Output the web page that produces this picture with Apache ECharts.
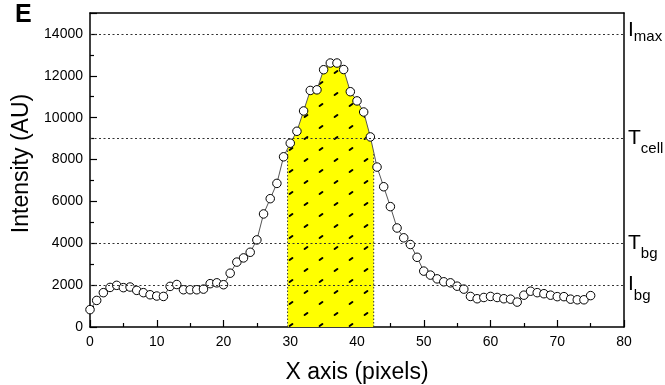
<!DOCTYPE html>
<html><head><meta charset="utf-8">
<script src="https://cdn.jsdelivr.net/npm/echarts@6/dist/echarts.min.js"></script>
<style>html,body{margin:0;padding:0;background:#fff}#c{width:665px;height:385px}</style>
</head><body><div id="c"></div>
<script>
const xPixels = [0,1,2,3,4,5,6,7,8,9,10,11,12,13,14,15,16,17,18,19,20,21,22,23,24,25,26,27,28,29,30,31,32,33,34,35,36,37,38,39,40,41,42,43,44,45,46,47,48,49,50,51,52,53,54,55,56,57,58,59,60,61,62,63,64,65,66,67,68,69,70,71,72,73,74,75];
const intensity = [830,1270,1640,1890,1990,1880,1910,1750,1640,1540,1480,1460,1940,2030,1780,1780,1780,1810,2070,2110,2020,2570,3100,3300,3570,4160,5400,6130,6860,8130,8780,9350,10320,11300,11330,12290,12610,12610,12300,11240,10800,10270,9080,7640,6700,5750,4730,4260,3940,3330,2670,2480,2300,2160,2110,1950,1810,1460,1350,1410,1460,1410,1350,1330,1190,1520,1710,1640,1590,1520,1450,1450,1330,1300,1300,1500];
const thresholdValues = [14000, 9000, 4000, 2000];
const thresholdMain = ['I', 'T', 'T', 'I'];
const thresholdSub = ['max', 'cell', 'bg', 'bg'];
const regionBounds = [29.6, 42.5];
const FONT = "'Liberation Sans', Arial, sans-serif";

function makePattern() {
  const c = document.createElement('canvas');
  c.width = 30; c.height = 22;
  const g = c.getContext('2d');
  g.fillStyle = '#ffff00'; g.fillRect(0, 0, 30, 22);
  g.strokeStyle = '#000'; g.lineWidth = 2; g.lineCap = 'round';
  [[6, 6], [21, 17]].forEach(function (p) {
    g.beginPath(); g.moveTo(p[0] - 1.4, p[1] + 1.0); g.lineTo(p[0] + 1.4, p[1] - 1.0); g.stroke();
  });
  return c;
}
const pattern = makePattern();

function renderRegion(params, api) {
  const pts = xPixels.map(function (x, i) { return api.coord([x, intensity[i]]); });
  const b0 = api.coord([regionBounds[0], 0]);
  const b1 = api.coord([regionBounds[1], 0]);
  function edge(px) {
    for (let i = 0; i < pts.length - 1; i++) {
      if (pts[i][0] <= px && pts[i + 1][0] >= px) {
        const t = (px - pts[i][0]) / (pts[i + 1][0] - pts[i][0]);
        return [px, pts[i][1] + t * (pts[i + 1][1] - pts[i][1])];
      }
    }
    return [px, b0[1]];
  }
  const e0 = edge(b0[0]), e1 = edge(b1[0]);
  const poly = [[b0[0], b0[1]], e0];
  pts.forEach(function (p) { if (p[0] > b0[0] && p[0] < b1[0]) poly.push(p); });
  poly.push(e1); poly.push([b1[0], b1[1]]);
  const dotted = { stroke: '#333', lineWidth: 1, lineDash: [1.5, 2], fill: null };
  return {
    type: 'group',
    children: [
      { type: 'polygon', shape: { points: poly }, style: { fill: { image: pattern, repeat: 'repeat' }, stroke: null } },
      { type: 'line', shape: { x1: b0[0], y1: b0[1], x2: e0[0], y2: e0[1] }, style: dotted },
      { type: 'line', shape: { x1: b1[0], y1: b1[1], x2: e1[0], y2: e1[1] }, style: dotted }
    ]
  };
}

const tickCommon = {
  axisTick: { show: true, inside: true, length: 7, lineStyle: { color: '#000', width: 1.2 } },
  minorTick: { show: true, splitNumber: 2, length: 4, lineStyle: { color: '#000', width: 1.2 } }
};
const boxAxis = {
  axisLine: { show: true, onZero: false, lineStyle: { color: '#000', width: 1.5 } },
  axisTick: { show: false }, minorTick: { show: false }, axisLabel: { show: false }, splitLine: { show: false }
};

const chart = echarts.init(document.getElementById('c'), null, { renderer: 'canvas' });
chart.setOption({
  animation: false,
  backgroundColor: '#fff',
  textStyle: { fontFamily: FONT },
  grid: { left: 90, right: 41, top: 13, bottom: 58, show: false, containLabel: false, outerBoundsMode: 'none' },
  graphic: [{ type: 'text', left: 15, top: 3, style: { text: 'E', font: 'bold 25px ' + FONT, fill: '#000' } }],
  xAxis: [{
    type: 'value', min: 0, max: 80, interval: 10, position: 'bottom',
    name: 'X axis (pixels)', nameLocation: 'middle', nameGap: 34,
    nameTextStyle: { fontSize: 23, color: '#000', fontFamily: FONT },
    axisLine: { show: true, onZero: false, lineStyle: { color: '#000', width: 1.5 } },
    axisTick: tickCommon.axisTick, minorTick: tickCommon.minorTick,
    splitLine: { show: false }, minorSplitLine: { show: false },
    axisLabel: { fontSize: 14, color: '#000', margin: 8, fontFamily: FONT }
  }, Object.assign({ type: 'value', min: 0, max: 80, interval: 10, position: 'top' }, boxAxis)],
  yAxis: [{
    type: 'value', min: 0, max: 15000, interval: 2000, position: 'left',
    name: 'Intensity (AU)', nameLocation: 'middle', nameGap: 42,
    nameTextStyle: { fontSize: 23, color: '#000', fontFamily: FONT, padding: [0, 0, 0, 13] },
    axisLine: { show: true, onZero: false, lineStyle: { color: '#000', width: 1.5 } },
    axisTick: tickCommon.axisTick, minorTick: tickCommon.minorTick,
    splitLine: { show: false }, minorSplitLine: { show: false },
    axisLabel: { fontSize: 14, color: '#000', margin: 7, fontFamily: FONT, showMaxLabel: false,
      formatter: function (v) { return String(v); } }
  }, Object.assign({ type: 'value', min: 0, max: 15000, interval: 2000, position: 'right' }, boxAxis)],
  series: [
    {
      type: 'custom', renderItem: renderRegion, silent: true, z: 1,
      data: [[regionBounds[0], 0]], encode: { x: 0, y: 1 }
    },
    {
      type: 'line', z: 3,
      data: xPixels.map(function (x, i) { return [x, intensity[i]]; }),
      symbol: 'circle', symbolSize: 8.5,
      itemStyle: { color: '#fff', borderColor: '#000', borderWidth: 1 },
      lineStyle: { color: '#555', width: 1 },
      markLine: {
        silent: true, symbol: ['none', 'none'],
        lineStyle: { type: [2, 2.5], color: '#333', width: 1 },
        label: {
          show: true, position: 'end', distance: 4, color: '#000', padding: [0, 0, 14, 0],
          rich: {
            a: { fontSize: 21, lineHeight: 22, padding: [7, 0, 0, 0], verticalAlign: 'top', color: '#000', fontFamily: FONT },
            b: { fontSize: 15, lineHeight: 15, padding: [21, 0, 0, 0], verticalAlign: 'top', color: '#000', fontFamily: FONT },
            c: { fontSize: 15, lineHeight: 15, padding: [16, 0, 5, 0], verticalAlign: 'top', color: '#000', fontFamily: FONT }
          }
        },
        data: thresholdValues.map(function (v, i) {
          const isMax = thresholdSub[i] === 'max';
          return {
            yAxis: v,
            label: {
              padding: isMax ? [0, 0, 20, 0] : [0, 0, 14, 0],
              formatter: '{a|' + thresholdMain[i] + '}{' + (isMax ? 'c' : 'b') + '|' + thresholdSub[i] + '}'
            }
          };
        })
      }
    }
  ]
});
</script>
</body></html>
